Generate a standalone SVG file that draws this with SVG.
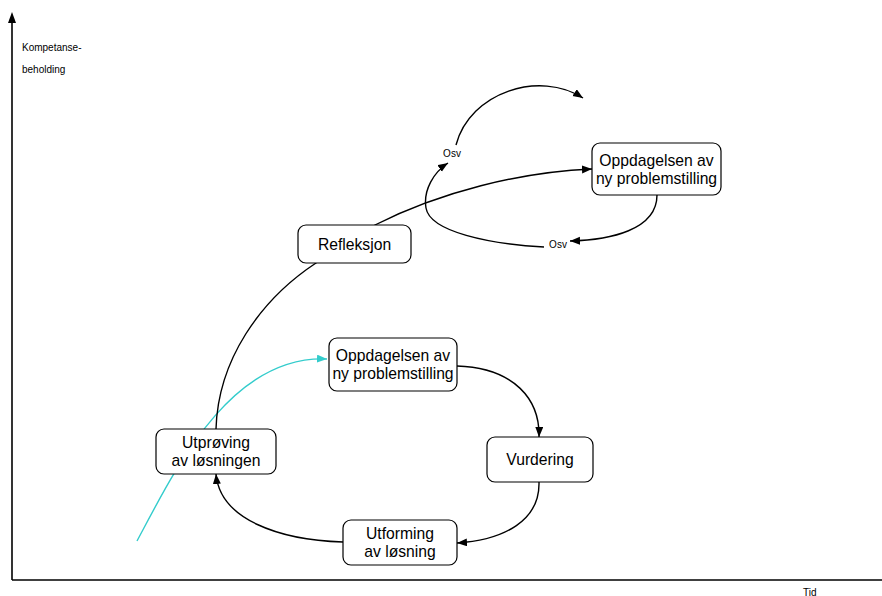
<svg xmlns="http://www.w3.org/2000/svg" width="882" height="596" viewBox="0 0 882 596">
<style>
.box{fill:#fff;stroke:#000;stroke-width:1.2}
.t{font-family:"Liberation Sans",Arial,sans-serif;font-size:15.7px;fill:#000;text-anchor:middle}
.s{font-family:"Liberation Sans",Arial,sans-serif;font-size:10px;fill:#000}
.c{fill:none;stroke:#000;stroke-width:1.4}
.cy{fill:none;stroke:#33cccc;stroke-width:1.4}
.ax{fill:none;stroke:#000;stroke-width:1.6}
</style>
<defs>
<marker id="a" markerUnits="userSpaceOnUse" markerWidth="11" markerHeight="9" refX="10" refY="4" orient="auto"><path d="M0,0 L10,4 L0,8 z" fill="#000"/></marker>
<marker id="ac" markerUnits="userSpaceOnUse" markerWidth="11" markerHeight="9" refX="10" refY="4" orient="auto"><path d="M0,0 L10,4 L0,8 z" fill="#33cccc"/></marker>
</defs>
<g id="axes">
<path class="ax" d="M12,580 L12,22"/>
<path d="M12,12 L16,23 L8,23 z" fill="#000"/>
<path class="ax" d="M12,580 L882,580"/>
<text class="s" x="22" y="51">Kompetanse-</text>
<text class="s" x="22" y="73">beholding</text>
<text class="s" x="803" y="595.5">Tid</text>
</g>
<g id="connectors">
<path class="cy" d="M137,541 C175,470 230,355 327,359" marker-end="url(#ac)"/>
<path class="c" d="M216,429 C218,360 260,300 316,263 L375,225 C440,192 520,172 592,169" marker-end="url(#a)"/>
<path class="c" d="M457,366 C515,368 540,400 539,437" marker-end="url(#a)"/>
<path class="c" d="M539,482 C540,520 505,540 457,543" marker-end="url(#a)"/>
<path class="c" d="M343,542 C280,540 220,520 216,474" marker-end="url(#a)"/>
<path class="c" d="M657,195 C657,230 610,240 570,241" marker-end="url(#a)"/>
<path class="c" d="M544,247 C490,244 430,232 426,208 C423,190 434,172 448,163" marker-end="url(#a)"/>
<path class="c" d="M456,145 C470,92 540,70 583,98" marker-end="url(#a)"/>
<text class="s" x="558" y="248" text-anchor="middle" font-size="9">Osv</text>
<text class="s" x="452" y="157" text-anchor="middle" font-size="9">Osv</text>
</g>
<g id="refleksjon">
<rect class="box" x="298" y="225" width="113" height="38" rx="8"/>
<text class="t" x="354.5" y="249.5">Refleksjon</text>
</g>
<g id="oppdagelsen-top">
<rect class="box" x="592" y="143" width="129" height="52" rx="8"/>
<text class="t" x="656.5" y="165.5">Oppdagelsen av</text>
<text class="t" x="656.5" y="183.5">ny problemstilling</text>
</g>
<g id="oppdagelsen-lower">
<rect class="box" x="329" y="338" width="128" height="53" rx="8"/>
<text class="t" x="393" y="361">Oppdagelsen av</text>
<text class="t" x="393" y="379">ny problemstilling</text>
</g>
<g id="vurdering">
<rect class="box" x="487" y="437" width="106" height="45" rx="8"/>
<text class="t" x="540" y="465">Vurdering</text>
</g>
<g id="utforming">
<rect class="box" x="343" y="520" width="114" height="45" rx="8"/>
<text class="t" x="400" y="539">Utforming</text>
<text class="t" x="400" y="557">av løsning</text>
</g>
<g id="utproving">
<rect class="box" x="156" y="429" width="120" height="45" rx="8"/>
<text class="t" x="216" y="448">Utprøving</text>
<text class="t" x="216" y="466">av løsningen</text>
</g>
</svg>
